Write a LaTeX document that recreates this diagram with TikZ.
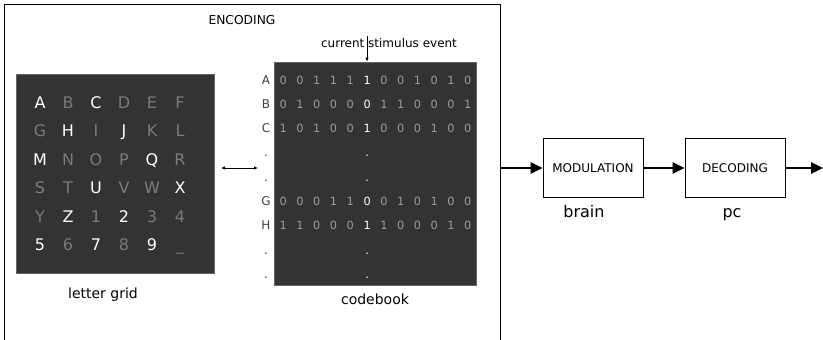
\documentclass[tikz,border=0pt]{standalone}
\usepackage{fontspec}
\setmainfont{DejaVu Sans}
\usetikzlibrary{arrows.meta}

\definecolor{panelgray}{HTML}{333333}
\definecolor{dimgray}{HTML}{7A7A7A}
\definecolor{bitgray}{HTML}{9A9A9A}

\tikzset{
  panel/.style = {fill = panelgray, draw = black!60, line width = .5pt, inner sep = 0pt},
  stagebox/.style = {draw, line width = .7pt, minimum width = 75pt, minimum height = 44pt,
    font = \fontsize{9}{10}\selectfont},
  flow/.style = {-{Triangle[length = 9pt, width = 8.5pt]}, line width = 1.1pt},
  pointer/.style = {-{Latex[length = 3pt, width = 2.6pt]}, line width = .6pt},
  glyph/.style = {anchor = base, inner sep = 0pt, font = \fontsize{12}{12}\selectfont},
  bit/.style = {anchor = base, inner sep = 0pt, font = \fontsize{8.5}{8.5}\selectfont},
  rowlab/.style = {anchor = base, inner sep = 0pt, text = black!75, font = \fontsize{9}{9}\selectfont},
  caption/.style = {anchor = base, inner sep = 0pt, font = \fontsize{10.5}{11}\selectfont},
  hi/.style = {text = white},
  lo/.style = {text = dimgray}
}

\begin{document}
\begin{tikzpicture}[x = .75pt, y = -.75pt]
  \useasboundingbox (0, 0) rectangle (823, 339);

  %%encoding frame
  \node[draw, line width = .6pt, minimum width = 372pt, minimum height = 259.5pt, inner sep = 0pt] (enc) at (252, 177) {};
  \node[anchor = base, inner sep = 0pt, font = \fontsize{9.2}{10}\selectfont] (enclab) at (242, 24) {ENCODING};

  %%letter grid
  \node[panel, minimum width = 148.5pt, minimum height = 149.25pt] (grid) at (115, 173.5) {};
  \foreach \row [count = \r from 0] in {
      {A/hi, B/lo, C/hi, D/lo, E/lo, F/lo},
      {G/lo, H/hi, I/lo, J/hi, K/lo, L/lo},
      {M/hi, N/lo, O/lo, P/lo, Q/hi, R/lo},
      {S/lo, T/lo, U/hi, V/lo, W/lo, X/hi},
      {Y/lo, Z/hi, 1/lo, 2/hi, 3/lo, 4/lo},
      {5/hi, 6/lo, 7/hi, 8/lo, 9/hi, \_/lo}}
    \foreach \ch/\tone [count = \c from 0] in \row
      \node[glyph, \tone] (l-\r-\c) at (40 + 28*\c, 108.5 + 28.4*\r) {\ch};
  \node[caption] (gridlab) at (103, 298) {letter grid};

    \coordinate (gl) at (221, 168);
    \coordinate (cl) at (258, 168);
    \draw[{Latex[length = 3pt, width = 2.6pt]}-{Latex[length = 3pt, width = 2.6pt]}, line width = .6pt] (gl) to (cl);

  %%codebook
  \node[panel, minimum width = 151.5pt, minimum height = 167.25pt] (code) at (375, 173.5) {};
  \foreach \lab/\bits [count = \r from 0] in {
      A/{0,0,1,1,1,1,0,0,1,0,1,0},
      B/{0,1,0,0,0,0,1,1,0,0,0,1},
      C/{1,0,1,0,0,1,0,0,0,1,0,0},
      ./{ , , , , ,., , , , , , },
      ./{ , , , , ,., , , , , , },
      G/{0,0,0,1,1,0,0,1,0,1,0,0},
      H/{1,1,0,0,0,1,1,0,0,0,1,0},
      ./{ , , , , ,., , , , , , },
      ./{ , , , , ,., , , , , , }}
  {
    \node[rowlab] (r-\r) at (266, 84 + 24.3*\r) {\lab};
    \foreach \b [count = \c from 0] in \bits {
      \ifnum\c=5 \def\bitcol{white}\else\def\bitcol{bitgray}\fi
      \node[bit, text = \bitcol] (b-\r-\c) at (283.3 + 16.76*\c, 84 + 24.3*\r) {\b};
    }
  }
  \node[caption] (codelab) at (375, 304) {codebook};

    \node[anchor = base, inner sep = 0pt, font = \fontsize{9}{10}\selectfont] (stimlab) at (389, 47) {current stimulus event};
    \coordinate (stimtop) at (367, 36);
    \draw[pointer] (stimtop) to (stimtop |- code.north);

  %%pipeline
  \node[stagebox] (mod) at (593, 168) {MODULATION};
  \node[stagebox] (dec) at (735, 168) {DECODING};
    \node[anchor = base, inner sep = 0pt, font = \fontsize{12}{12}\selectfont] (brainlab) at (584, 217) {brain};
    \node[anchor = base, inner sep = 0pt, font = \fontsize{12}{12}\selectfont] (pclab) at (732, 217) {pc};
  \coordinate (out) at (823, 168);

  \draw[flow] (enc.east |- mod.west) to (mod.west);
  \draw[flow] (mod.east) to (dec.west);
  \draw[flow] (dec.east) to (out);

\end{tikzpicture}
\end{document}
